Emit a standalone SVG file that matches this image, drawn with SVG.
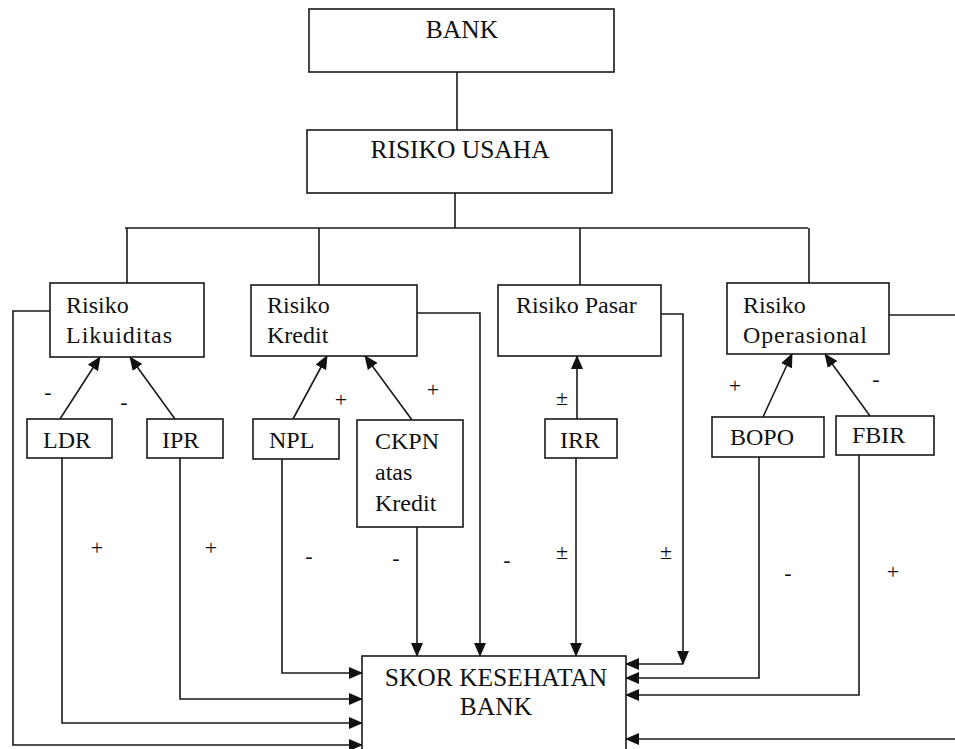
<svg xmlns="http://www.w3.org/2000/svg" width="955" height="749" viewBox="0 0 955 749">
<style>
.box{fill:#fff;stroke:#1a1a1a;stroke-width:1.6}
.t{font-family:"Liberation Serif","Times New Roman",serif;font-size:24px;fill:#111}
.big{font-size:25.5px}
.c{text-anchor:middle}
.s{font-family:"Liberation Serif","Times New Roman",serif;font-size:22px;fill:#111;text-anchor:middle}
.ln{fill:none;stroke:#1a1a1a;stroke-width:1.6}
.ar{fill:none;stroke:#1a1a1a;stroke-width:1.6;marker-end:url(#ah)}
</style>
<defs>
<marker id="ah" markerUnits="userSpaceOnUse" markerWidth="14" markerHeight="12" viewBox="0 0 14 12" refX="13" refY="6" orient="auto">
<path d="M0,0 L14,6 L0,12 Z" fill="#111"/>
</marker>
</defs>
<rect width="955" height="749" fill="#fff"/>
<g id="connectors">
<path class="ln" d="M457,72 V130"/>
<path class="ln" d="M455,193 V228 M125,228 H808 M127,228 V283 M319,228 V285 M580,228 V285 M809,228 V283"/>
<path class="ar" d="M60,419 L100,357"/>
<path class="ar" d="M175,419 L130,357"/>
<path class="ar" d="M293,419 L327,356"/>
<path class="ar" d="M412,420 L365,356"/>
<path class="ar" d="M577,419 V356"/>
<path class="ar" d="M763,417 L792,354"/>
<path class="ar" d="M870,416 L825,354"/>
<path class="ar" d="M50,311 H13 V745 H362"/>
<path class="ar" d="M62,458 V723 H362"/>
<path class="ar" d="M180,458 V699 H362"/>
<path class="ar" d="M282,459 V673 H362"/>
<path class="ar" d="M417,527 V656"/>
<path class="ar" d="M417,313 H480 V656"/>
<path class="ar" d="M576,458 V656"/>
<path class="ar" d="M661,314 H683 V664"/>
<path class="ar" d="M683,664 H626"/>
<path class="ar" d="M759,457 V678 H626"/>
<path class="ar" d="M859,455 V695 H626"/>
<path class="ln" d="M889,315 H955"/>
<path class="ar" d="M955,739 H626"/>
</g>
<g id="bank"><rect class="box" x="309" y="9" width="305" height="63"/><text class="t big c" x="462" y="38">BANK</text></g>
<g id="risiko-usaha"><rect class="box" x="307" y="130" width="305" height="63"/><text class="t big c" x="460" y="158">RISIKO USAHA</text></g>
<g id="risiko-likuiditas"><rect class="box" x="50" y="283" width="154" height="74"/><text class="t" x="66" y="313">Risiko</text><text class="t" x="66" y="343" textLength="106">Likuiditas</text></g>
<g id="risiko-kredit"><rect class="box" x="251" y="285" width="166" height="71"/><text class="t" x="267" y="313">Risiko</text><text class="t" x="267" y="343">Kredit</text></g>
<g id="risiko-pasar"><rect class="box" x="498" y="285" width="163" height="71"/><text class="t" x="516" y="313">Risiko Pasar</text></g>
<g id="risiko-operasional"><rect class="box" x="727" y="283" width="162" height="71"/><text class="t" x="743" y="313">Risiko</text><text class="t" x="743" y="343" textLength="124">Operasional</text></g>
<g id="ldr"><rect class="box" x="27" y="419" width="85" height="39"/><text class="t" x="43" y="448">LDR</text></g>
<g id="ipr"><rect class="box" x="147" y="419" width="76" height="39"/><text class="t" x="162" y="448">IPR</text></g>
<g id="npl"><rect class="box" x="253" y="419" width="86" height="40"/><text class="t" x="269" y="448">NPL</text></g>
<g id="ckpn"><rect class="box" x="357" y="420" width="106" height="107"/><text class="t" x="375" y="449">CKPN</text><text class="t" x="375" y="480">atas</text><text class="t" x="375" y="511">Kredit</text></g>
<g id="irr"><rect class="box" x="545" y="419" width="72" height="39"/><text class="t" x="560" y="448">IRR</text></g>
<g id="bopo"><rect class="box" x="712" y="417" width="112" height="40"/><text class="t" x="730" y="445">BOPO</text></g>
<g id="fbir"><rect class="box" x="836" y="416" width="98" height="39"/><text class="t" x="852" y="443">FBIR</text></g>
<g id="skor"><rect class="box" x="362" y="656" width="264" height="110"/><text class="t big c" x="496" y="686">SKOR KESEHATAN</text><text class="t big c" x="496" y="715">BANK</text></g>
<g id="labels">
<text class="s" x="48" y="399">-</text>
<text class="s" x="124" y="409">-</text>
<text class="s" x="341" y="407">+</text>
<text class="s" x="433" y="397">+</text>
<text class="s" x="562" y="405">±</text>
<text class="s" x="735" y="393">+</text>
<text class="s" x="876" y="386">-</text>
<text class="s" x="97" y="555">+</text>
<text class="s" x="211" y="555">+</text>
<text class="s" x="309" y="563">-</text>
<text class="s" x="396" y="565">-</text>
<text class="s" x="507" y="567">-</text>
<text class="s" x="562" y="559">±</text>
<text class="s" x="666" y="559">±</text>
<text class="s" x="788" y="580">-</text>
<text class="s" x="893" y="579">+</text>
</g>
</svg>
